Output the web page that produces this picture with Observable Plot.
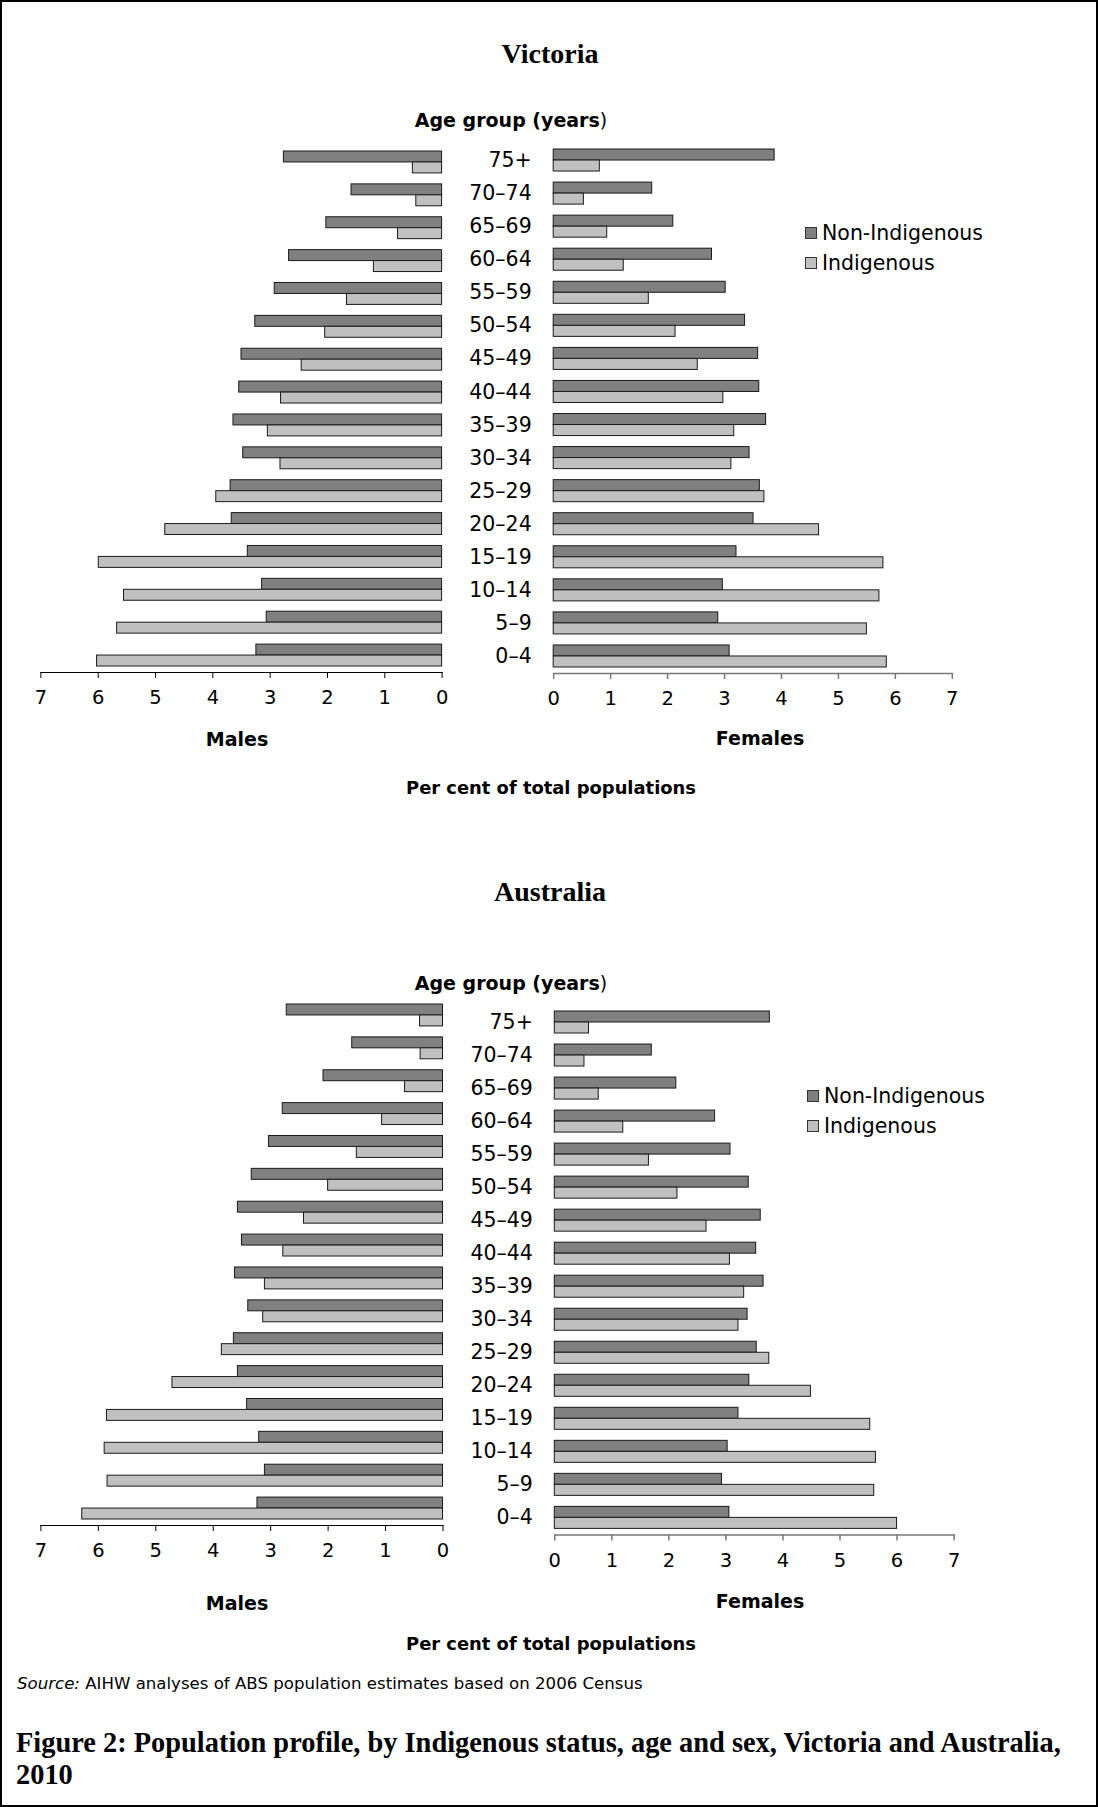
<!DOCTYPE html>
<html>
<head>
<meta charset="utf-8">
<script src="https://cdn.jsdelivr.net/npm/d3@7"></script>
<script src="https://cdn.jsdelivr.net/npm/@observablehq/plot@0.6"></script>
<style>
  html, body { margin: 0; padding: 0; background: #fff; }
  #page { position: relative; width: 1098px; height: 1807px; overflow: hidden; background: #fff; }
  #border { position: absolute; left: 0; top: 0; width: 1098px; height: 1807px; box-sizing: border-box; border: 2px solid #000; pointer-events: none; }
  .lbl { position: absolute; white-space: nowrap; line-height: 1; color: #000; }
  .sans { font-family: "DejaVu Sans", sans-serif; }
  .serif { font-family: "Liberation Serif", serif; font-weight: bold; }
  .sw { position: absolute; width: 12px; height: 12px; box-sizing: border-box; border: 1px solid #333; }
</style>
</head>
<body>
<div id="page"><div id="border"></div></div>
<script>
// ---- data ----
const ages = ["75+","70–74","65–69","60–64","55–59","50–54","45–49","40–44","35–39","30–34","25–29","20–24","15–19","10–14","5–9","0–4"];
const xTicks = [0, 1, 2, 3, 4, 5, 6, 7];
const seriesNames = ["Non-Indigenous", "Indigenous"];

const vicMaleNon = [2.76,1.58,2.02,2.67,2.92,3.26,3.50,3.54,3.64,3.47,3.69,3.67,3.39,3.14,3.06,3.24];
const vicMaleInd = [0.51,0.45,0.77,1.19,1.66,2.04,2.45,2.81,3.04,2.82,3.94,4.83,5.99,5.55,5.67,6.02];
const vicFemNon  = [3.88,1.73,2.10,2.78,3.02,3.36,3.59,3.61,3.73,3.44,3.62,3.51,3.21,2.97,2.89,3.09];
const vicFemInd  = [0.81,0.53,0.94,1.23,1.67,2.14,2.53,2.98,3.17,3.12,3.70,4.66,5.79,5.72,5.50,5.85];

const ausMaleNon = [2.72,1.58,2.08,2.79,3.03,3.33,3.57,3.50,3.62,3.39,3.64,3.57,3.41,3.20,3.10,3.23];
const ausMaleInd = [0.40,0.39,0.66,1.06,1.50,2.00,2.42,2.78,3.10,3.13,3.85,4.71,5.85,5.89,5.84,6.28];
const ausFemNon  = [3.77,1.70,2.13,2.81,3.08,3.40,3.61,3.53,3.66,3.38,3.54,3.41,3.22,3.03,2.93,3.06];
const ausFemInd  = [0.60,0.52,0.77,1.20,1.65,2.15,2.66,3.07,3.32,3.22,3.76,4.49,5.53,5.63,5.60,6.00];

const NON_FILL = "#808080", IND_FILL = "#c0c0c0";
const page = document.getElementById("page");

function pyramid({non, ind, male, bandTop, bandBottom, x0, x7, axisStroke, axisWidth}) {
  const n = ages.length, pi = 1/3, outer = 6;
  const step = (bandBottom - bandTop) / (n - pi);
  const bw = step * (1 - pi);
  const marginTop = 10, marginBottom = 50;
  const svgTop = bandTop - outer - marginTop;
  const height = marginTop + (bandBottom - bandTop) + 2 * outer + marginBottom;
  const rows = ages.map((age, i) => ({age, non: non[i], ind: ind[i]}));
  const marginLeft = male ? x7 : x0;
  const marginRight = 1098 - (male ? x0 : x7);
  const marks = [
    Plot.barX(rows, {y: "age", x: "non", fill: NON_FILL, stroke: "#1a1a1a", strokeWidth: 1, insetTop: 0, insetBottom: bw / 2}),
    Plot.barX(rows, {y: "age", x: "ind", fill: IND_FILL, stroke: "#1a1a1a", strokeWidth: 1, insetTop: bw / 2, insetBottom: 0}),
    Plot.frame({anchor: "bottom", stroke: axisStroke, strokeWidth: axisWidth}),
    Plot.axisX(xTicks, {tickSize: 6, tickPadding: 12, fontSize: 19.5, stroke: axisStroke, fill: "#000", label: null, strokeWidth: axisWidth})
  ];
  if (!male) marks.push(Plot.axisY({tickSize: 0, tickPadding: 22, fontSize: 20.5, fill: "#000", label: null}));
  const svg = Plot.plot({
    width: 1098, height, marginTop, marginBottom, marginLeft, marginRight,
    style: {fontFamily: "DejaVu Sans, sans-serif", fontSize: "19.5px", color: "#000", background: "transparent", overflow: "visible"},
    x: {domain: [0, 7], reverse: male, label: null},
    y: {domain: ages, paddingInner: pi, paddingOuter: outer / step, round: false, label: null, axis: male ? null : undefined},
    marks
  });
  svg.style.position = "absolute";
  svg.style.left = "0px";
  svg.style.top = svgTop + "px";
  page.appendChild(svg);
}

function label(html, x, y, cls, size, align = "center") {
  const d = document.createElement("div");
  d.className = "lbl " + cls;
  d.style.fontSize = size + "px";
  d.innerHTML = html;
  d.style.top = y + "px";
  d.style.left = x + "px";
  d.style.transform = align === "center" ? "translate(-50%, -50%)" : "translate(0, -50%)";
  page.appendChild(d);
}

function legend(x, y1, y2) {
  [[NON_FILL, y1], [IND_FILL, y2]].forEach(([fill, y], i) => {
    const s = document.createElement("div");
    s.className = "sw";
    s.style.background = fill;
    s.style.left = x + "px";
    s.style.top = (y - 6) + "px";
    page.appendChild(s);
    label(seriesNames[i], x + 17, y, "sans", 20.5, "left");
  });
}

// ---- Victoria ----
label("Victoria", 550, 54, "serif", 28);
label('<b>Age group (years</b>)', 511, 120, "sans", 19);
pyramid({non: vicMaleNon, ind: vicMaleInd, male: true, bandTop: 150.7, bandBottom: 665.7, x0: 441.6, x7: 40.4, axisStroke: "#000", axisWidth: 1});
pyramid({non: vicFemNon, ind: vicFemInd, male: false, bandTop: 148.5, bandBottom: 666.5, x0: 553.2, x7: 951.8, axisStroke: "#777", axisWidth: 1.5});
legend(805, 233, 262.5);
label("<b>Males</b>", 237, 739, "sans", 19);
label("<b>Females</b>", 760, 738, "sans", 19);
label("<b>Per cent of total populations</b>", 551, 788, "sans", 17.9);

// ---- Australia ----
label("Australia", 550, 892, "serif", 28);
label('<b>Age group (years</b>)', 511, 983, "sans", 19);
pyramid({non: ausMaleNon, ind: ausMaleInd, male: true, bandTop: 1003.6, bandBottom: 1518.6, x0: 442.5, x7: 40.4, axisStroke: "#000", axisWidth: 1});
pyramid({non: ausFemNon, ind: ausFemInd, male: false, bandTop: 1011.4, bandBottom: 1528.8, x0: 554.3, x7: 953.6, axisStroke: "#777", axisWidth: 1.5});
legend(807, 1096, 1126);
label("<b>Males</b>", 237, 1603, "sans", 19);
label("<b>Females</b>", 760, 1601, "sans", 19);
label("<b>Per cent of total populations</b>", 551, 1644, "sans", 17.9);

// ---- footer ----
label("<i>Source:</i> AIHW analyses of ABS population estimates based on 2006 Census", 17, 1684, "sans", 16.6, "left");
label("Figure 2: Population profile, by Indigenous status, age and sex, Victoria and Australia,", 16, 1743, "serif", 28.4, "left");
label("2010", 16, 1775, "serif", 28.4, "left");
</script>
</body>
</html>
